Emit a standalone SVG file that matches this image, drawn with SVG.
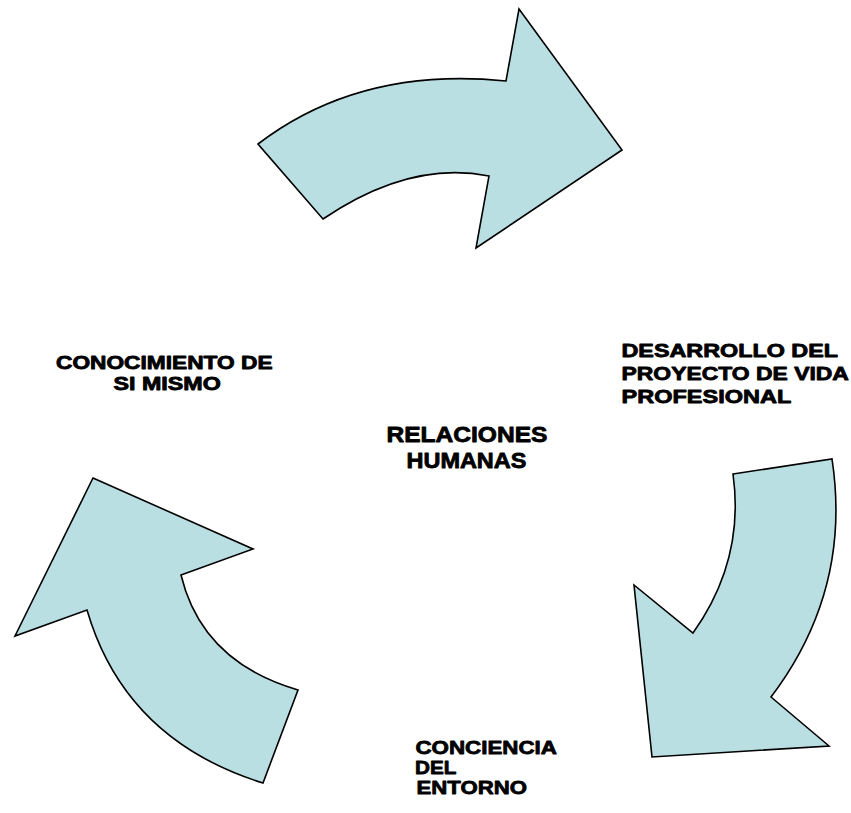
<svg xmlns="http://www.w3.org/2000/svg" width="851" height="813" viewBox="0 0 851 813">
<style>
.arrow{fill:#B9DFE2;stroke:#000;stroke-width:1.6;stroke-linejoin:miter}
.lbl{font-family:"Liberation Sans",Arial,sans-serif;font-weight:bold;fill:#000;stroke:#000;stroke-width:0.8;stroke-linejoin:round}
</style>
<rect width="851" height="813" fill="#fff"/>
<g id="connectors">
<path id="arrow-top" class="arrow" d="M258,144 Q360,66 506,81 L519,9 L622,150 L476,248 L489,176 Q410,160 323,219 Z"/>
<path id="arrow-right" class="arrow" d="M733,474 L832,459 Q852,590 771,697 L829,746 L652,757 L634,585 L693,633 Q745,560 733,474 Z"/>
<path id="arrow-left" class="arrow" d="M93,478 L253,549 L181,575 Q202,662 298,690 L263,783 Q125,740 87,610 L15,636 Z"/>
</g>
<g id="node-conocimiento">
<text class="lbl" font-size="17.5" transform="translate(56,369) scale(1.298,1)">CONOCIMIENTO DE</text>
<text class="lbl" font-size="17.5" transform="translate(113.5,390) scale(1.33,1)">SI MISMO</text>
</g>
<g id="node-relaciones">
<text class="lbl" font-size="22" transform="translate(386.5,442) scale(1.116,1)">RELACIONES</text>
<text class="lbl" font-size="22" transform="translate(406.5,468) scale(1.067,1)">HUMANAS</text>
</g>
<g id="node-desarrollo">
<text class="lbl" font-size="18.5" transform="translate(621.5,356.7) scale(1.262,1)">DESARROLLO DEL</text>
<text class="lbl" font-size="18.5" transform="translate(621.5,380) scale(1.239,1)">PROYECTO DE VIDA</text>
<text class="lbl" font-size="18.5" transform="translate(621.5,403.3) scale(1.272,1)">PROFESIONAL</text>
</g>
<g id="node-conciencia">
<text class="lbl" font-size="19" transform="translate(415.5,754) scale(1.176,1)">CONCIENCIA</text>
<text class="lbl" font-size="19" transform="translate(415,774) scale(1.09,1)">DEL</text>
<text class="lbl" font-size="19" transform="translate(416.5,794) scale(1.168,1)">ENTORNO</text>
</g>
</svg>
